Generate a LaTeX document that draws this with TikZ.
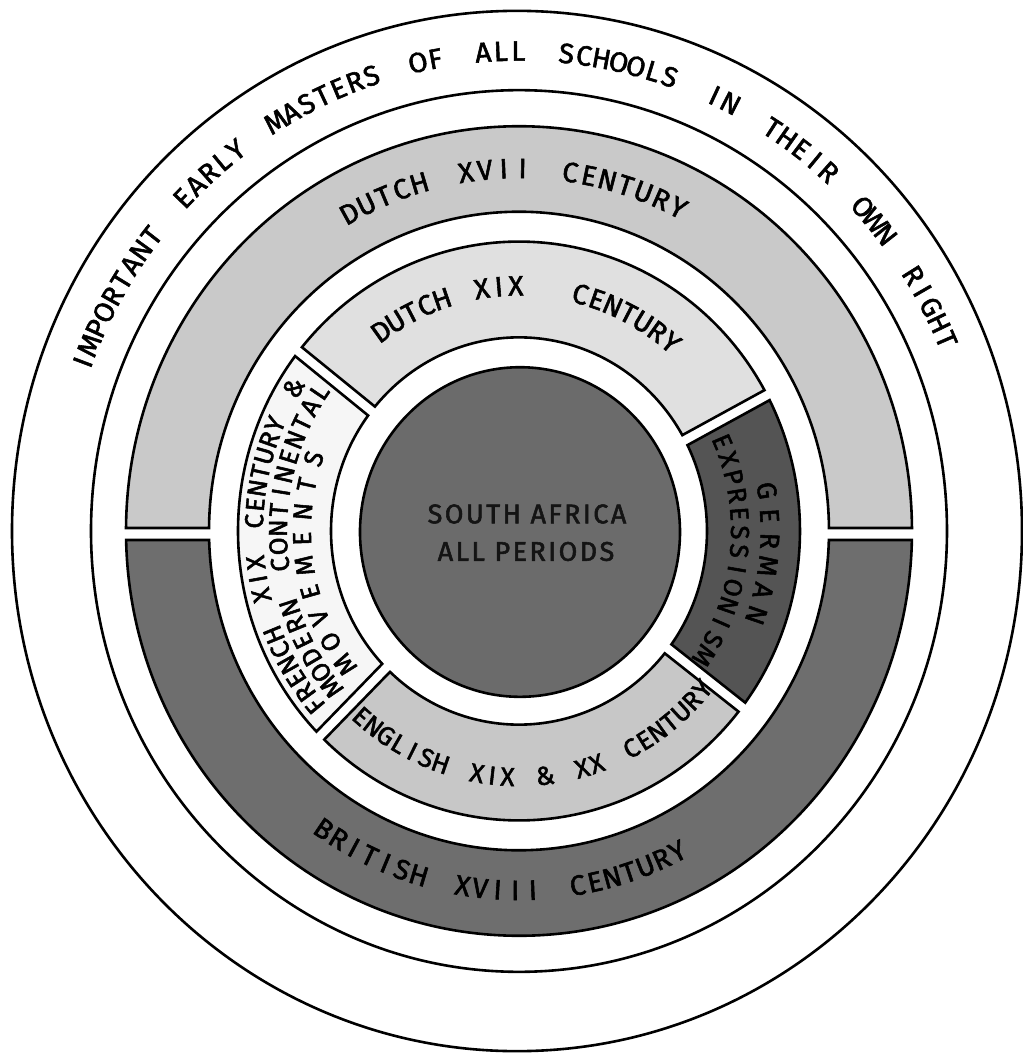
\documentclass[tikz,border=0pt]{standalone}
\usepackage{fontspec}
\setmainfont{Fira Sans}[FakeBold=2]
\ExplSyntaxOn
\NewDocumentCommand\strmapdo{mmm}{
  \str_map_inline:nn {#3}
    { \str_if_eq:nnTF {##1} {~} {#2}
        { \str_if_eq:nnTF {##1} {_} {#2} {#1{##1}} } }
}
\ExplSyntaxOff
\definecolor{cDutchA}{gray}{0.79}
\definecolor{cBrit}{gray}{0.43}
\definecolor{cDutchB}{gray}{0.88}
\definecolor{cFrench}{gray}{0.965}
\definecolor{cGerman}{gray}{0.33}
\definecolor{cEnglish}{gray}{0.78}
\definecolor{cSA}{gray}{0.42}
\newdimen\arcW \newdimen\arcT \newdimen\arcP
\newcount\arcN \newcount\arcK
\def\arcmeasure#1{\settowidth\arcW{\arcfont #1}\global\advance\arcT\arcW\global\advance\arcN 1\relax}
\def\arcmeasurespace{\global\advance\arcT\arcSpace\relax\global\advance\arcN 1\relax}
\def\arcplace#1{%
  \settowidth\arcW{\arcfont #1}%
  \pgfmathsetmacro\arcAng{\arcA+\arcDir*(\arcP+0.5*\arcW)/\arcR*57.29578}%
  \pgfmathsetmacro\arcRot{\arcAng+\arcDir*90}%
  \global\advance\arcK 1\relax
  \node[lett,text height=\arcCap pt,rotate=\arcRot] (ch\the\arcK) at (\arcAng:\arcR) {\arcfont #1};%
  \global\advance\arcP\arcW
  \global\advance\arcP\arcTrack pt\relax}
\def\arcplacespace{\global\advance\arcP\arcSpace\relax\global\advance\arcP\arcTrack pt\relax}
% \arclabel[size]{radius}{start angle}{end angle}{space width}{text}
\newcommand\arclabel[6][28]{%
  \def\arcfont{\fontsize{#1}{#1}\selectfont}%
  \pgfmathsetmacro\arcCap{0.689*#1}%
  \global\arcT=0pt\global\arcN=0\relax
  \def\arcSpace{#5}%
  \strmapdo{\arcmeasure}{\arcmeasurespace}{#6}%
  \pgfmathsetmacro\arcDir{(#4>#3)?1:-1}%
  \pgfmathsetmacro\arcTrack{(abs(#4-#3)/57.29578*#2-\arcT)/(\arcN-1)}%
  \def\arcA{#3}\def\arcR{#2}%
  \global\arcP=0pt\relax
  \strmapdo{\arcplace}{\arcplacespace}{#6}}
% middle ring segment between gap angles #1 < #2
\newcommand\ringseg[2]{%
  ({#1+asin(5.5/281)}:281) arc[start angle={#1+asin(5.5/281)}, end angle={#2-asin(5.5/281)}, radius=281]
  -- ({#2-asin(5.5/188)}:188) arc[start angle={#2-asin(5.5/188)}, end angle={#1+asin(5.5/188)}, radius=188] -- cycle}
\begin{document}
\begin{tikzpicture}[x=1pt,y=1.03pt,
  ring/.style={draw=black, line width=2.6pt},
  seg/.style={draw=black, line width=2.6pt, line join=miter},
  lett/.style={inner sep=0pt, text depth=0pt, anchor=center, text=black},
  satext/.style={inner sep=0pt, text height=18.6pt, text depth=0pt, anchor=center, text=black!92,
    font=\fontsize{27}{27}\selectfont\addfontfeature{LetterSpace=9}}]
\useasboundingbox (-519pt,-522pt) rectangle (504pt,531pt);
\fill[white] (-519pt,-522pt) rectangle (504pt,531pt);
% outer rings
\path[ring, fill=white] (-2,0) circle[radius=505];
\path[ring, fill=white] (0,0) circle[radius=428];
% big band: Dutch XVII (top) and British XVIII (bottom)
\path[seg, fill=cDutchA] (0.42:393) arc[start angle=0.42, end angle=179.58, radius=393]
  -- (179.46:310) arc[start angle=179.46, end angle=0.54, radius=310] -- cycle;
\path[seg, fill=cBrit] (-1.27:393) arc[start angle=-1.27, end angle=-178.73, radius=393]
  -- (-178.38:310) arc[start angle=-178.38, end angle=-1.62, radius=310] -- cycle;
% middle ring segments
\path[seg, fill=cDutchB] \ringseg{28}{141.7};
\path[seg, fill=cFrench] \ringseg{141.7}{225};
\path[seg, fill=cEnglish] \ringseg{225}{322.5};
\path[seg, fill=cGerman] \ringseg{322.5}{388};
% centre
\path[seg, fill=cSA] (1,-1) circle[radius=160];
% labels
\arclabel{466}{159.4}{23.5}{13pt}{IMPORTANT EARLY MASTERS OF ALL SCHOOLS IN THEIR OWN RIGHT}
\arclabel{352}{118.8}{63.1}{10pt}{DUTCH XVII CENTURY}
\arclabel{238}{125.4}{50.3}{7pt}{DUTCH XIX_ CENTURY}
\arclabel[26]{239}{228.8}{320.1}{7pt}{ENGLISH XIX & XX CENTURY}
\arclabel{349}{236}{297}{10pt}{BRITISH XVIII CENTURY}
\arclabel[26]{265}{219.8}{148.3}{8pt}{FRENCH XIX CENTURY &}
\arclabel[26]{241}{218.9}{145.9}{8pt}{MODERN CONTINENTAL}
\arclabel[26]{217}{216.7}{161.1}{8pt}{MOVEMENTS}
\arclabel[27]{251}{9}{-19}{8pt}{GERMAN}
\arclabel[26]{221}{23.1}{-33.2}{8pt}{EXPRESSIONISM}
\node[satext] (sa1) at (8,16.5) {SOUTH AFRICA};
\node[satext] (sa2) at (7,-19.9) {ALL PERIODS};
\end{tikzpicture}
\end{document}
